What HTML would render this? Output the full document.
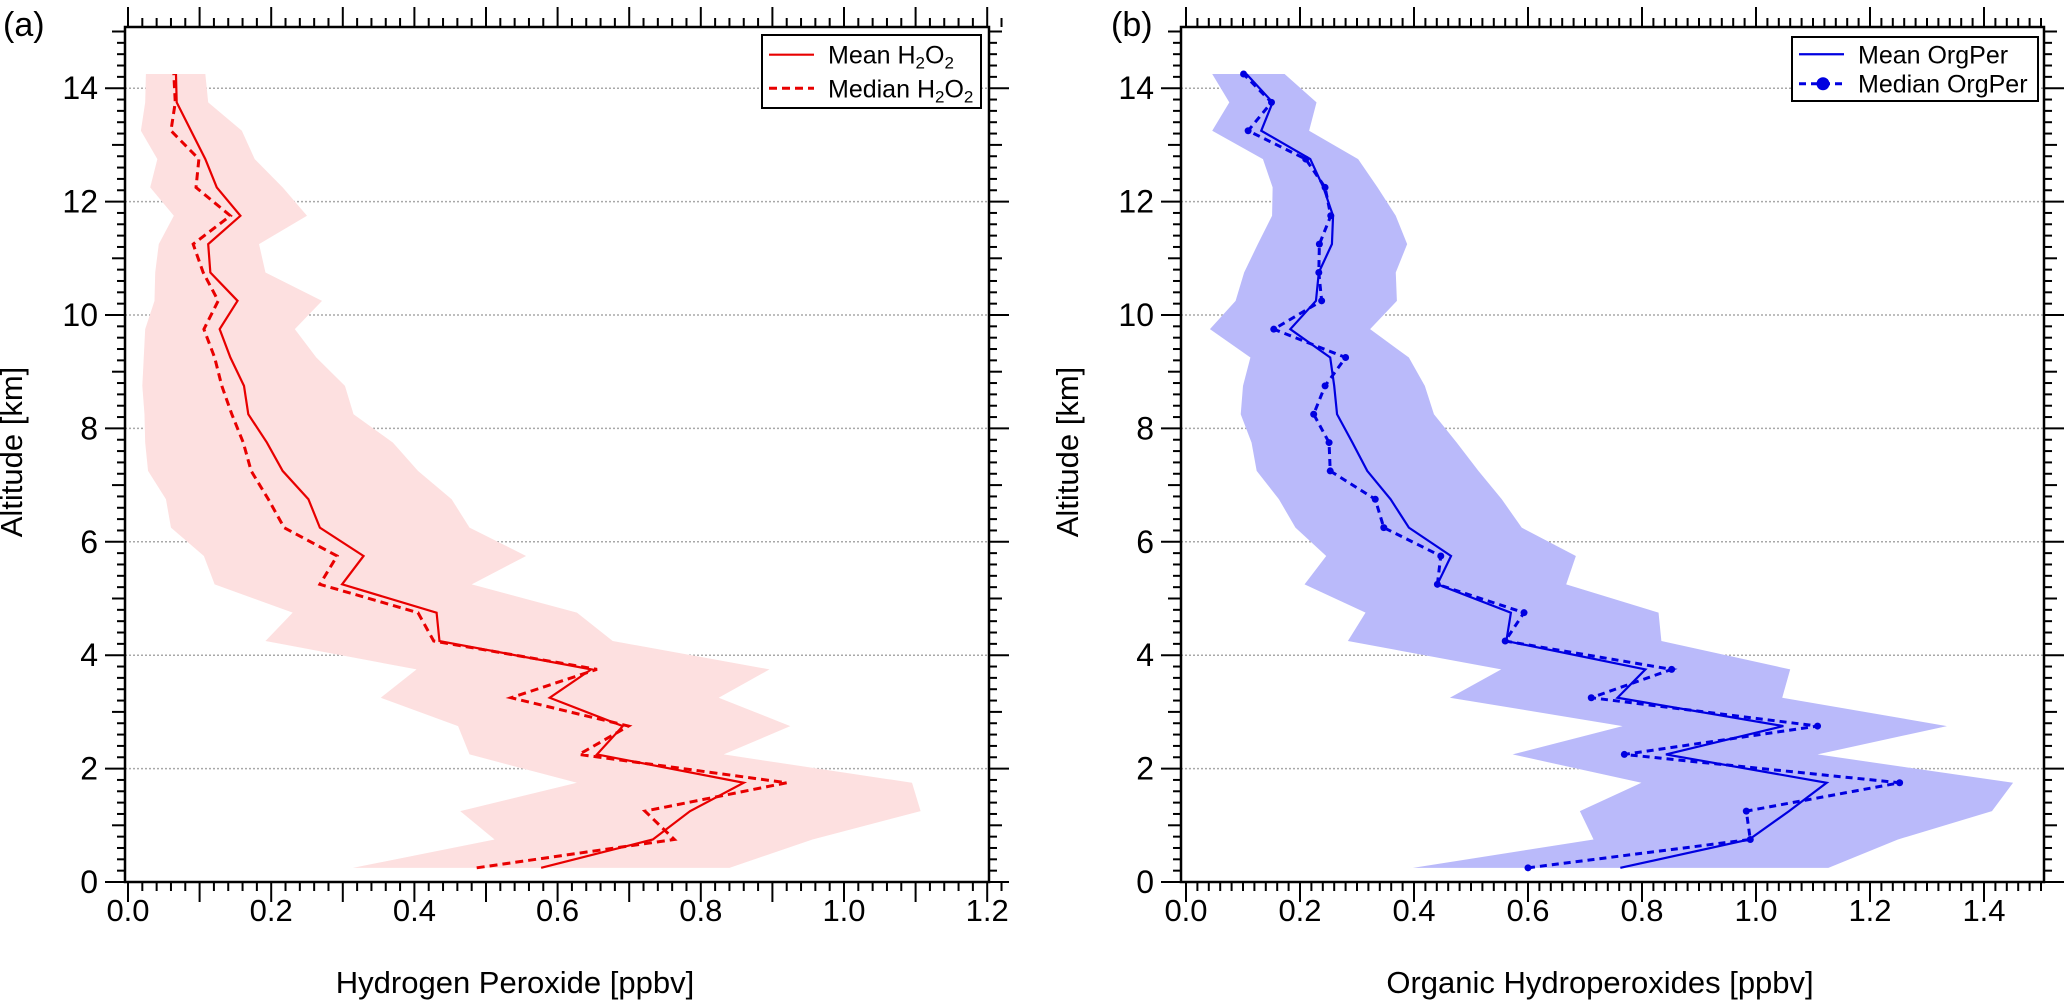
<!DOCTYPE html>
<html><head><meta charset="utf-8"><style>
html,body{margin:0;padding:0;background:#fff;}
svg{display:block;font-family:"Liberation Sans",Arial,sans-serif;}
</style></head><body>
<svg id="chart" width="2067" height="1002" viewBox="0 0 2067 1002" xmlns="http://www.w3.org/2000/svg"></svg>
<script>
const altitudes=[0.25,0.75,1.25,1.75,2.25,2.75,3.25,3.75,4.25,4.75,5.25,5.75,6.25,6.75,7.25,7.75,8.25,8.75,9.25,9.75,10.25,10.75,11.25,11.75,12.25,12.75,13.25,13.75,14.25];
const h2o2Mean=[0.577,0.733,0.785,0.860,0.655,0.691,0.589,0.647,0.435,0.431,0.299,0.329,0.268,0.252,0.216,0.194,0.168,0.162,0.143,0.128,0.153,0.115,0.112,0.157,0.124,0.108,0.088,0.068,0.067];
const h2o2Median=[0.487,0.763,0.722,0.920,0.630,0.699,0.535,0.655,0.427,0.405,0.268,0.292,0.218,0.196,0.172,0.161,0.145,0.131,0.121,0.106,0.126,0.105,0.091,0.143,0.095,0.099,0.060,0.066,0.064];
const h2o2Max=[0.840,0.956,1.107,1.095,0.832,0.925,0.825,0.896,0.677,0.627,0.480,0.556,0.477,0.452,0.405,0.370,0.315,0.303,0.263,0.233,0.271,0.192,0.183,0.250,0.216,0.177,0.159,0.112,0.108];
const h2o2Min=[0.314,0.512,0.464,0.627,0.477,0.461,0.353,0.403,0.192,0.230,0.121,0.106,0.060,0.053,0.028,0.024,0.023,0.020,0.022,0.024,0.037,0.038,0.043,0.064,0.031,0.041,0.018,0.024,0.025];
const orgMean=[0.762,0.988,1.058,1.124,0.842,1.048,0.757,0.806,0.562,0.570,0.441,0.465,0.391,0.359,0.318,0.292,0.265,0.260,0.253,0.183,0.228,0.233,0.256,0.258,0.241,0.218,0.132,0.152,0.106];
const orgMedian=[0.600,0.990,0.983,1.252,0.769,1.108,0.711,0.852,0.560,0.593,0.441,0.447,0.347,0.332,0.253,0.251,0.224,0.244,0.280,0.154,0.238,0.233,0.234,0.254,0.244,0.210,0.109,0.150,0.101];
const orgMax=[1.127,1.249,1.414,1.451,1.108,1.335,1.046,1.060,0.834,0.829,0.667,0.684,0.589,0.554,0.513,0.475,0.435,0.419,0.391,0.323,0.370,0.368,0.388,0.368,0.336,0.302,0.216,0.229,0.173];
const orgMin=[0.398,0.715,0.691,0.799,0.573,0.766,0.463,0.553,0.284,0.315,0.208,0.246,0.192,0.163,0.124,0.115,0.096,0.100,0.113,0.042,0.087,0.102,0.126,0.151,0.152,0.135,0.046,0.076,0.046];
const yTickLabels=[0,2,4,6,8,10,12,14];
const xTickLabelsA=["0.0","0.2","0.4","0.6","0.8","1.0","1.2"];
const xTickLabelsB=["0.0","0.2","0.4","0.6","0.8","1.0","1.2","1.4"];

const svg=document.getElementById('chart');
const NS='http://www.w3.org/2000/svg';
function mk(tag,attrs,parent){const e=document.createElementNS(NS,tag);for(const k in attrs)e.setAttribute(k,attrs[k]);(parent||svg).appendChild(e);return e;}

const panels=[
 {key:'a',left:125,right:989,top:27,bottom:882,x0:128,xs:716,xmax:1.235,majorX:0.1,labels:xTickLabelsA,
  mean:h2o2Mean,median:h2o2Median,max:h2o2Max,min:h2o2Min,line:'#e80000',fill:'#fde0e0',dash:'8 5',markers:false,
  title:'Hydrogen  Peroxide [ppbv]',titleX:515,panelLabel:'(a)',plx:3,ytx:22,
  legend:{x:762,y:35,w:219,h:73,items:['Mean H','Median H']}},
 {key:'b',left:1181,right:2044,top:27,bottom:882,x0:1186,xs:570,xmax:1.506,majorX:0.2,labels:xTickLabelsB,
  mean:orgMean,median:orgMedian,max:orgMax,min:orgMin,line:'#0000e0',fill:'#babafa',dash:'7 5',markers:true,
  title:'Organic Hydroperoxides [ppbv]',titleX:1600,panelLabel:'(b)',plx:1111,ytx:1078,
  legend:{x:1792,y:37,w:246,h:64,items:['Mean OrgPer','Median OrgPer']}}
];
const ys=56.7;
function yOf(p,a){return p.bottom-a*ys;}

panels.forEach(p=>{
 const g=mk('g',{});
 
 
 const X=v=>p.x0+v*p.xs;
 yTickLabels.forEach(t=>{
  const l=mk('line',{x1:p.left,x2:p.right,y1:yOf(p,t),y2:yOf(p,t),stroke:'#a8a8a8','stroke-width':1.5,'stroke-dasharray':'2 2'},g);
  
  
 });
 let pts=[];
 altitudes.forEach((a,i)=>pts.push(X(p.max[i])+','+yOf(p,a)));
 for(let i=altitudes.length-1;i>=0;i--)pts.push(X(p.min[i])+','+yOf(p,altitudes[i]));
 const band=mk('polygon',{points:pts.join(' '),fill:p.fill,stroke:'none'},g);
 
 
 const medPts=altitudes.map((a,i)=>X(p.median[i])+','+yOf(p,a)).join(' ');
 const med=mk('polyline',{points:medPts,fill:'none',stroke:p.line,'stroke-width':3,'stroke-dasharray':p.dash},g);
 
 
 if(p.markers){altitudes.forEach((a,i)=>{
  const c=mk('circle',{cx:X(p.median[i]),cy:yOf(p,a),r:3.5,fill:p.line},g);
  
  
 });}
 const meanPts=altitudes.map((a,i)=>X(p.mean[i])+','+yOf(p,a)).join(' ');
 const mn=mk('polyline',{points:meanPts,fill:'none',stroke:p.line,'stroke-width':2.2},g);
 
 
 const fr=mk('rect',{x:p.left,y:p.top,width:p.right-p.left,height:p.bottom-p.top,fill:'none',stroke:'#000','stroke-width':2.5},g);
 
 
 const nx=Math.floor(p.xmax/0.02+1e-6);
 for(let k=0;k<=nx;k++){
  const v=k*0.02; const x=X(v);
  const isMaj=Math.abs(v/p.majorX-Math.round(v/p.majorX))<1e-6;
  const len=isMaj?20:9;
  const t1=mk('line',{x1:x,x2:x,y1:p.bottom,y2:p.bottom+len,stroke:'#000','stroke-width':2},g);
  
  
  const t2=mk('line',{x1:x,x2:x,y1:p.top,y2:p.top-len,stroke:'#000','stroke-width':2},g);
  
  
 }
 p.labels.forEach(s=>{
  const t=mk('text',{x:X(parseFloat(s)),y:921,'text-anchor':'middle','font-size':31,fill:'#000'},g);
  t.textContent=s;
  
  
 });
 for(let k=0;k<=75;k++){
  const a=k*0.2; const y=yOf(p,a);
  if(y<p.top-1)break;
  const r=Math.round(a*10);
  const len=(r%20===0)?20:((r%10===0)?13:8);
  const t1=mk('line',{x1:p.left,x2:p.left-len,y1:y,y2:y,stroke:'#000','stroke-width':2},g);
  
  
  const t2=mk('line',{x1:p.right,x2:p.right+len,y1:y,y2:y,stroke:'#000','stroke-width':2},g);
  
  
 }
 yTickLabels.forEach(v=>{
  const t=mk('text',{x:p.left-27,y:yOf(p,v)+11,'text-anchor':'end','font-size':32,fill:'#000'},g);
  t.textContent=String(v);
  
  
 });
 const xt=mk('text',{x:p.titleX,y:993,'text-anchor':'middle','font-size':31,fill:'#000'},g);
 xt.textContent=p.title;
 
 
 const yt=mk('text',{x:p.ytx,y:452,'text-anchor':'middle','font-size':31,fill:'#000',transform:'rotate(-90 '+p.ytx+' 452)'},g);
 yt.textContent='Altitude [km]';
 
 
 const pl=mk('text',{x:p.plx,y:36,'font-size':34,fill:'#000'},g);
 pl.textContent=p.panelLabel;
 
 
 const L=p.legend;
 const lg=mk('g',{},g);
 
 
 mk('rect',{x:L.x,y:L.y,width:L.w,height:L.h,fill:'#fff',stroke:'#000','stroke-width':2},lg);
 const r1=L.y+L.h*0.27, r2=L.y+L.h*0.73;
 const e1=mk('g',{},lg);
 
 
 mk('line',{x1:L.x+7,x2:L.x+52,y1:r1,y2:r1,stroke:p.line,'stroke-width':2.2},e1);
 const e2=mk('g',{},lg);
 
 
 mk('line',{x1:L.x+7,x2:L.x+52,y1:r2,y2:r2,stroke:p.line,'stroke-width':3,'stroke-dasharray':p.dash},e2);
 if(p.markers)mk('circle',{cx:L.x+31,cy:r2,r:6.5,fill:p.line},e2);
 const fs=25;
 [[e1,r1,L.items[0]],[e2,r2,L.items[1]]].forEach(([eg,ry,txt])=>{
  const t=mk('text',{x:L.x+66,y:ry+9,'font-size':fs,fill:'#000'},eg);
  if(p.key==='a'){
   t.appendChild(document.createTextNode(txt));
   const s1=document.createElementNS(NS,'tspan');s1.setAttribute('font-size',17);s1.setAttribute('dy',5);s1.textContent='2';t.appendChild(s1);
   const s2=document.createElementNS(NS,'tspan');s2.setAttribute('dy',-5);s2.textContent='O';t.appendChild(s2);
   const s3=document.createElementNS(NS,'tspan');s3.setAttribute('font-size',17);s3.setAttribute('dy',5);s3.textContent='2';t.appendChild(s3);
  } else t.textContent=txt;
 });
});
</script>
</body></html>
